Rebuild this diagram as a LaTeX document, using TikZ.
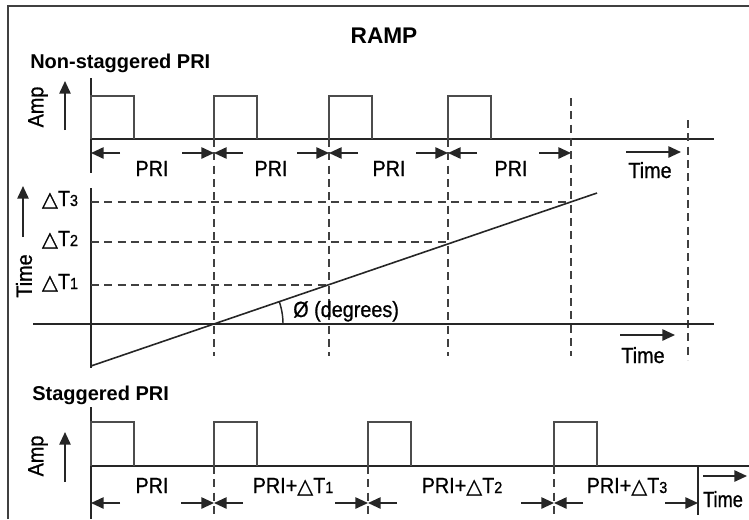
\documentclass[tikz,border=0pt]{standalone}
\usepackage{fontspec}
\setmainfont{Liberation Sans}
\newfontfamily\narrowfont[FakeStretch=0.9,FakeBold=0.8]{Liberation Sans}
\newfontfamily\symfont[FakeBold=0.8]{DejaVu Sans}
\usetikzlibrary{arrows.meta}
\newcommand{\dT}[1]{{\symfont\fontsize{15.5}{15.5}\selectfont △}T{\fontsize{12}{12}\selectfont #1}}
\tikzset{
  frameln/.style={line width=1.5pt, draw=black!75},
  baseln/.style={line width=1.7pt, draw=black!85},
  axisln/.style={line width=1.3pt, draw=black!85},
  pulseln/.style={line width=1.2pt, draw=black!70},
  dsh/.style={line width=1.3pt, draw=black!75, dash pattern=on 6pt off 4pt},
  arr/.style={-{Triangle[length=9.5pt,width=8.5pt]}, line width=1.3pt, draw=black!85},
  lbl/.style={font=\narrowfont\fontsize{16.5}{16.5}\selectfont, inner sep=0pt, anchor=base},
  bold/.style={font=\fontsize{15}{15}\selectfont\bfseries, inner sep=0pt, anchor=base west},
}
\begin{document}
\begin{tikzpicture}[x=0.75pt,y=-0.75pt]
\useasboundingbox (0,0) rectangle (749,519);
% frame
\draw[frameln] (8,519) -- (8,6) -- (749,6);
% titles
\node[font=\fontsize{17}{17}\selectfont\bfseries, inner sep=0pt, anchor=base] (title) at (384,43) {RAMP};
\node[bold] (nst) at (30,68) {Non-staggered PRI};
\node[bold] (st) at (32,400) {Staggered PRI};

% ---------- top panel ----------
\draw[axisln] (91,78) -- (91,173);
\draw[baseln] (91,139) -- (714,139);
\foreach \x in {91,214,329,448}
  \draw[pulseln] (\x,139) -- (\x,96) -- ({\x+43},96) -- ({\x+43},139);
\draw[arr] (65,130) -- (65,81);
\node[lbl, rotate=90, anchor=center] (amp1) at (38,107) {Amp};
% PRI arrows
\foreach \a/\b in {91/214,214/329,329/448,448/571}{
  \draw[arr] ({\a+29},153) -- (\a,153);
  \draw[arr] ({\b-32},153) -- (\b,153);
}
\node[lbl] (p1) at (152,176) {PRI};
\node[lbl] (p2) at (271,176) {PRI};
\node[lbl] (p3) at (389,176) {PRI};
\node[lbl] (p4) at (511,176) {PRI};
\draw[arr] (626,152) -- (681,152);
\node[lbl] (t1) at (650,178) {Time};

% ---------- dashed verticals ----------
\foreach \x in {214,329,448}
  \draw[dsh] (\x,139) -- (\x,356);
\draw[dsh] (571,98) -- (571,356);
\draw[dsh] (688,120) -- (688,360);

% ---------- middle panel ----------
\draw[axisln] (91,188) -- (91,368);
\draw[baseln] (33,324) -- (714,324);
\draw[dsh] (91,202) -- (571,202);
\draw[dsh] (91,242) -- (448,242);
\draw[dsh] (91,285) -- (329,285);
\draw[line width=1.2pt, black!85] (91,366) -- (597,193);
\draw[line width=1.1pt, black!85] plot[domain=0:18.9, samples=20] ({214+69*cos(\x)},{324-69*sin(\x)});
\node[lbl, anchor=base west] (deg) at (293,317) {Ø (degrees)};
\node[lbl] (d3) at (60,206) {\dT{3}};
\node[lbl] (d2) at (60,246) {\dT{2}};
\node[lbl] (d1) at (60,289) {\dT{1}};
\draw[arr] (23,237) -- (23,186);
\node[lbl, rotate=90, anchor=center] (tv) at (24,276) {Time};
\draw[arr] (620,335) -- (675,335);
\node[lbl] (t2) at (643,363) {Time};

% ---------- bottom panel ----------
\draw[axisln] (91,407) -- (91,519);
\draw[baseln] (91,466) -- (749,466);
\foreach \x in {91,214,368,554}
  \draw[pulseln] (\x,466) -- (\x,422) -- ({\x+43},422) -- ({\x+43},466);
\draw[arr] (65,482) -- (65,432);
\node[lbl, rotate=90, anchor=center] (amp2) at (38,456) {Amp};
\foreach \x in {214,368,554}
  \draw[dsh] (\x,466) -- (\x,519);
\draw[axisln] (698,466) -- (698,515);
\foreach \a/\b in {91/214,214/368,368/554,554/698}{
  \draw[arr] ({\a+29},503) -- (\a,503);
  \draw[arr] ({\b-33},503) -- (\b,503);
}
\node[lbl] (q1) at (152,493) {PRI};
\node[lbl] (q2) at (293,493) {PRI+\dT{1}};
\node[lbl] (q3) at (462,493) {PRI+\dT{2}};
\node[lbl] (q4) at (627,493) {PRI+\dT{3}};
\draw[arr] (703,476) -- (747,476);
\node[lbl, xscale=0.92] (t3) at (723,507) {Time};
\end{tikzpicture}
\end{document}
